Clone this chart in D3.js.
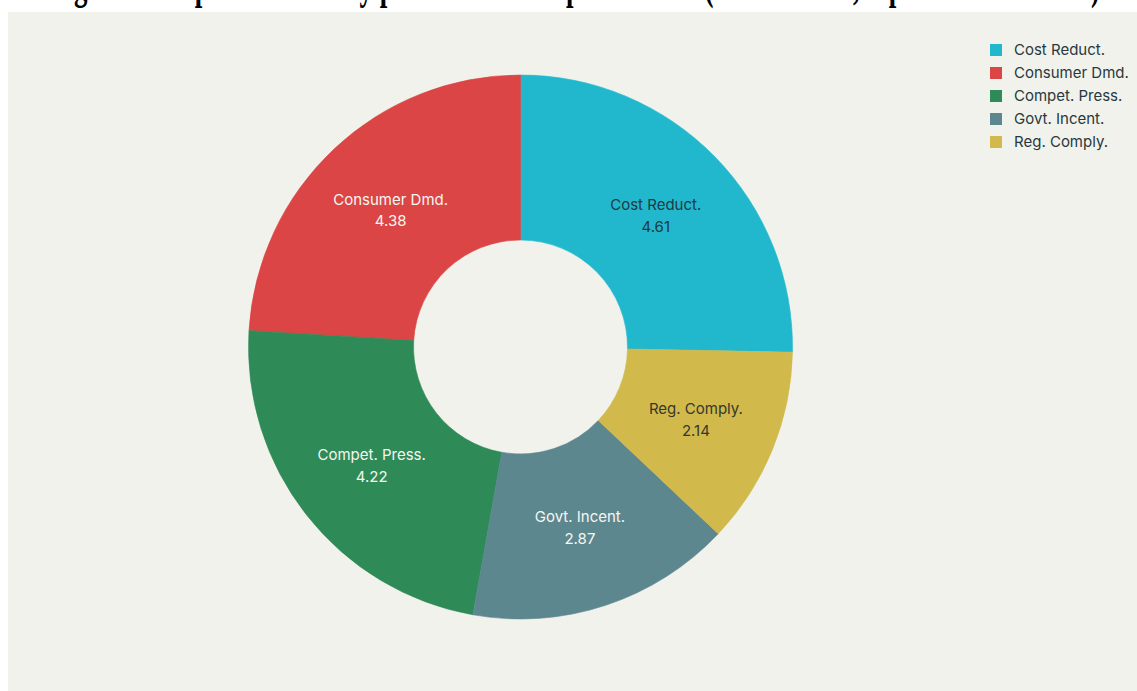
<!DOCTYPE html>
<html>
<head>
<meta charset="utf-8">
<script src="https://cdn.jsdelivr.net/npm/d3@7"></script>
<style>
  html, body { margin: 0; padding: 0; background: #ffffff; }
  svg { display: block; }
</style>
</head>
<body>
<svg id="chart" width="1137" height="691"></svg>
<script>
// Drivers and their mean importance scores
const categories = ["Cost Reduct.", "Consumer Dmd.", "Compet. Press.", "Govt. Incent.", "Reg. Comply."];
const scores = [4.61, 4.38, 4.22, 2.87, 2.14];
const colors = ["#21b8cd", "#db4545", "#2e8a56", "#5d878f", "#d2b94b"];
const labelColors = ["#1e3a42", "#f6f6f1", "#f6f6f1", "#f6f6f1", "#33382f"];
const titleText = "Figure 3: Importance of key pressures to adopt new tech (mean scores, 5-point Likert scale)";

const W = 1137, H = 691;
const svg = d3.select("#chart");

// panel background
svg.append("rect")
  .attr("x", 8).attr("y", 12)
  .attr("width", W - 8).attr("height", H - 12)
  .attr("fill", "#f1f2ec");

// title, set high so it sits mostly above the page top
svg.append("text")
  .attr("transform", "translate(575,-1.5) scale(1,1.5)")
  .attr("text-anchor", "middle")
  .attr("font-family", "Liberation Serif, serif")
  .attr("font-weight", "bold")
  .attr("font-size", 30)
  .attr("textLength", 1050)
  .attr("lengthAdjust", "spacingAndGlyphs")
  .attr("fill", "#000")
  .text(titleText);

const cx = 520.5, cy = 347;
const outerR = 272, innerR = 107;

const data = categories.map((c, i) => ({ name: c, value: scores[i], color: colors[i], tc: labelColors[i] }));
const total = d3.sum(scores);
const a0 = 2 * Math.PI * scores[0] / total;

// slices run counter-clockwise, the first one ending at 12 o'clock
const pie = d3.pie().sort(null).value(d => d.value)
  .startAngle(a0).endAngle(a0 - 2 * Math.PI);
const arc = d3.arc().innerRadius(innerR).outerRadius(outerR);

const g = svg.append("g").attr("transform", `translate(${cx},${cy})`);
const arcs = pie(data);

g.selectAll("path.slice")
  .data(arcs)
  .join("path")
  .attr("class", "slice")
  .attr("d", arc)
  .attr("fill", d => d.data.color)
  .attr("stroke", d => d.data.color)
  .attr("stroke-width", 0.6);

const labels = g.selectAll("text.lbl")
  .data(arcs)
  .join("text")
  .attr("class", "lbl")
  .attr("transform", d => `translate(${arc.centroid(d)})`)
  .attr("text-anchor", "middle")
  .attr("font-family", "Inter, 'Liberation Sans', sans-serif")
  .attr("font-size", 15)
  .attr("fill", d => d.data.tc);
labels.append("tspan").attr("x", 0).attr("dy", "-0.3em").text(d => d.data.name);
labels.append("tspan").attr("x", 0).attr("dy", "1.45em").text(d => d.value.toFixed(2));

// legend
const legend = svg.append("g").attr("transform", "translate(990,50)");
const rowH = 23;
const items = legend.selectAll("g.item")
  .data(data)
  .join("g")
  .attr("class", "item")
  .attr("transform", (d, i) => `translate(0,${i * rowH})`);
items.append("rect")
  .attr("x", 0).attr("y", -6)
  .attr("width", 12).attr("height", 12)
  .attr("fill", d => d.color);
items.append("text")
  .attr("x", 24).attr("y", 0)
  .attr("dy", "0.35em")
  .attr("font-family", "Inter, 'Liberation Sans', sans-serif")
  .attr("font-size", 15)
  .attr("fill", "#28383e")
  .text(d => d.name);
</script>
</body>
</html>
